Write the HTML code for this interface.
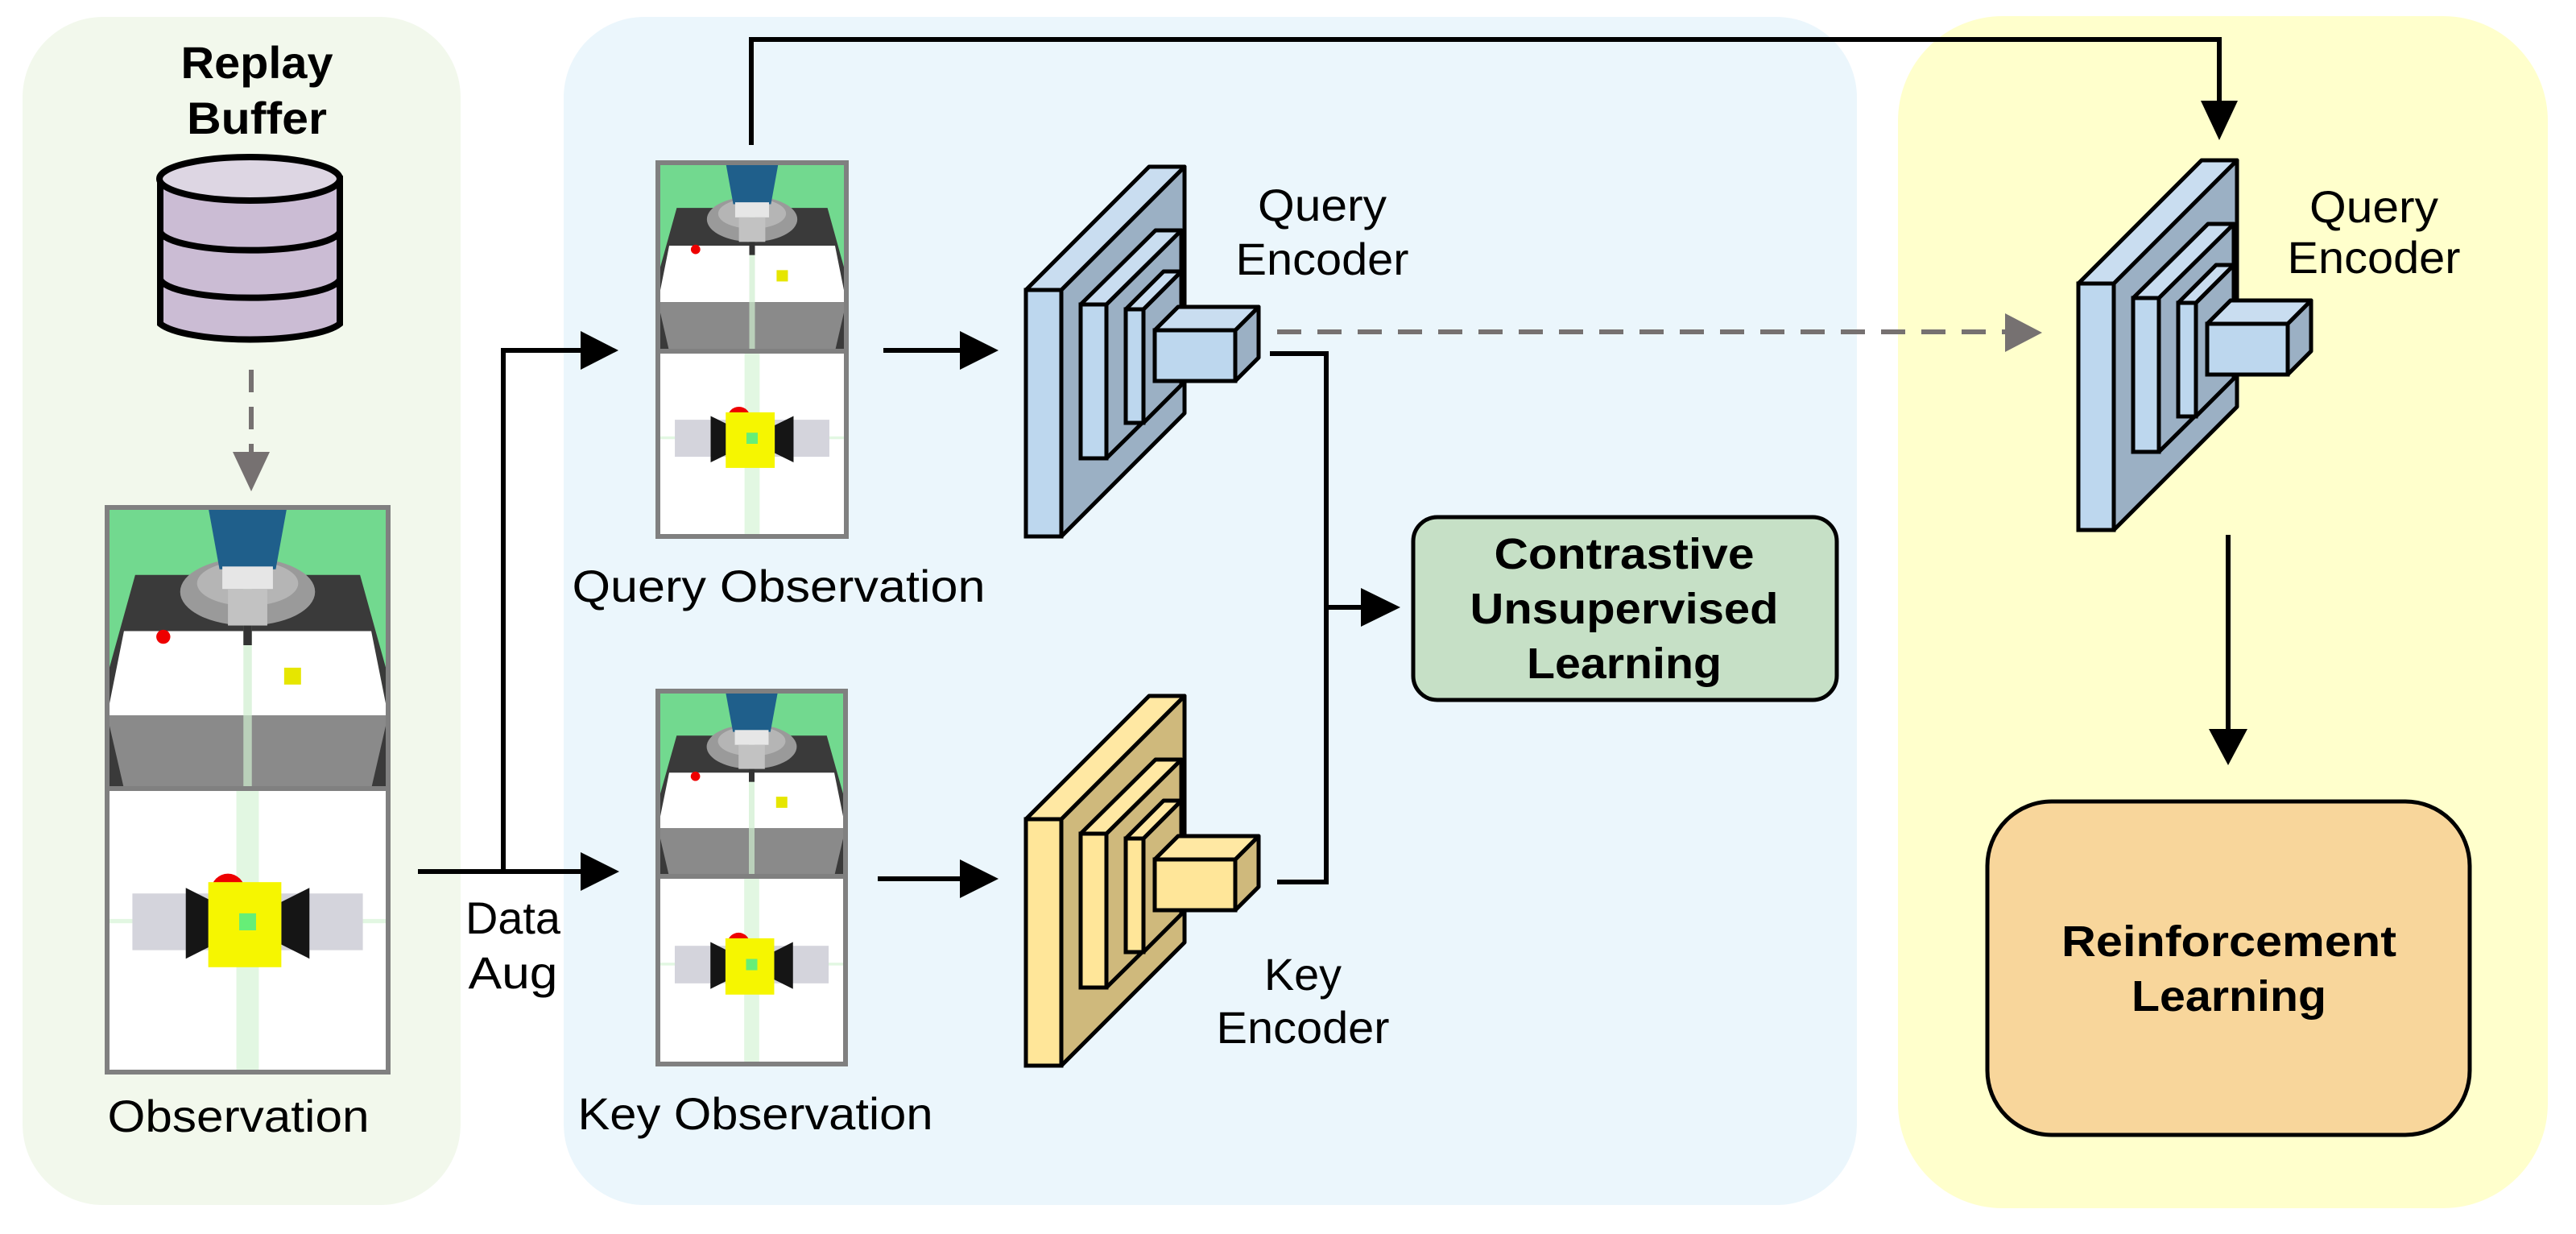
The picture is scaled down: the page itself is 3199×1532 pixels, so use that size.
<!DOCTYPE html>
<html><head><meta charset="utf-8"><style>html,body{margin:0;padding:0;background:#fff}svg{display:block}text{font-family:"Liberation Sans",sans-serif;fill:#000}</style></head>
<body>
<svg width="3199" height="1532" viewBox="0 0 3199 1532" xmlns="http://www.w3.org/2000/svg">
<defs>
<symbol id="topv" viewBox="0 0 100 100" preserveAspectRatio="none">
<rect width="100" height="100" fill="#72d98f"/>
<polygon points="10,24 90,24 100,60 100,100 0,100 0,60" fill="#3a3a3a"/>
<ellipse cx="50" cy="30" rx="24" ry="12" fill="#9a9a9a"/>
<ellipse cx="50" cy="27" rx="18" ry="8" fill="#b5b5b5"/>
<polygon points="6,44 94,44 100,74 0,74" fill="#ffffff"/>
<polygon points="0,74 100,74 94,100 6,100" fill="#8a8a8a"/>
<rect x="48.5" y="20" width="3" height="80" fill="#cfeecf" opacity="0.7"/>
<polygon points="36,0 64,0 60,22 40,22" fill="#1f5f8b"/>
<rect x="41" y="21" width="18" height="8" fill="#e6e6e6"/>
<rect x="43" y="29" width="14" height="13" fill="#c2c2c2"/>
<rect x="48.5" y="42" width="3" height="7" fill="#333"/>
<circle cx="20" cy="46" r="2.5" fill="#e00"/>
<rect x="63" y="57" width="6" height="6" fill="#e6e600"/>
</symbol>
<symbol id="botv" viewBox="0 0 100 100" preserveAspectRatio="none">
<rect width="100" height="100" fill="#fff"/>
<rect x="46" y="0" width="8" height="100" fill="#e2f7e2"/>
<rect x="0" y="46" width="100" height="1.5" fill="#e2f7e2"/>
<rect x="9" y="37" width="31" height="20" fill="#d4d4dc"/>
<rect x="60" y="37" width="31" height="20" fill="#d4d4dc"/>
<polygon points="28,35 38,40 38,55 28,60" fill="#151515"/>
<polygon points="72,35 62,40 62,55 72,60" fill="#151515"/>
<circle cx="43" cy="36" r="6" fill="#e00"/>
<rect x="36" y="33" width="26" height="30" fill="#f6f600"/>
<rect x="47" y="44" width="6" height="6" fill="#66ee77"/>
</symbol>
<g id="enc">
<polygon points="1318,360 1471,207 1471,513 1318,666" fill="var(--d)" stroke="#000" stroke-width="5" stroke-linejoin="round"/>
<polygon points="1274,360 1318,360 1471,207 1427,207" fill="var(--t)" stroke="#000" stroke-width="5" stroke-linejoin="round"/>
<rect x="1274" y="360" width="44" height="306" fill="var(--f)" stroke="#000" stroke-width="5"/>
<polygon points="1374,378 1467,286 1467,477 1374,569" fill="var(--d)" stroke="#000" stroke-width="5" stroke-linejoin="round"/>
<polygon points="1342,378 1374,378 1467,286 1435,286" fill="var(--t)" stroke="#000" stroke-width="5" stroke-linejoin="round"/>
<rect x="1342" y="378" width="32" height="191" fill="var(--f)" stroke="#000" stroke-width="5"/>
<polygon points="1420,384 1467,337 1467,478 1420,525" fill="var(--d)" stroke="#000" stroke-width="5" stroke-linejoin="round"/>
<polygon points="1398,384 1420,384 1467,337 1445,337" fill="var(--t)" stroke="#000" stroke-width="5" stroke-linejoin="round"/>
<rect x="1398" y="384" width="22" height="141" fill="var(--f)" stroke="#000" stroke-width="5"/>
<polygon points="1534,410 1563,381 1563,444 1534,473" fill="var(--d)" stroke="#000" stroke-width="5" stroke-linejoin="round"/>
<polygon points="1434,410 1534,410 1563,381 1463,381" fill="var(--t)" stroke="#000" stroke-width="5" stroke-linejoin="round"/>
<rect x="1434" y="410" width="100" height="63" fill="var(--f)" stroke="#000" stroke-width="5"/>
</g>
</defs>

<rect x="28" y="21" width="544" height="1475" rx="100" fill="#f2f8ec"/>
<rect x="700" y="21" width="1606" height="1475" rx="100" fill="#ebf6fc"/>
<rect x="2357" y="20" width="807" height="1480" rx="130" fill="#ffffcc"/>

<text x="319" y="97" font-size="56" font-weight="bold" text-anchor="middle" textLength="189" lengthAdjust="spacingAndGlyphs">Replay</text>
<text x="319" y="166" font-size="56" font-weight="bold" text-anchor="middle" textLength="174" lengthAdjust="spacingAndGlyphs">Buffer</text>
<path d="M199,222 V402 A116,27 0 0 0 422,402 V222 Z" fill="#cbbcd4" stroke="#000" stroke-width="8"/>
<ellipse cx="310" cy="222" rx="112" ry="27" fill="#ddd6e3" stroke="#000" stroke-width="8"/>
<path d="M199,288 A112,25 0 0 0 422,288" fill="none" stroke="#000" stroke-width="8"/>
<path d="M199,347 A112,25 0 0 0 422,347" fill="none" stroke="#000" stroke-width="8"/>
<line x1="312" y1="459" x2="312" y2="565" stroke="#767171" stroke-width="6" stroke-dasharray="28,18"/>
<polygon points="289,561 335,561 312,610" fill="#767171"/>

<use href="#topv" x="133" y="630" width="349" height="349"/>
<use href="#botv" x="133" y="979" width="349" height="352"/>
<rect x="133" y="630" width="349" height="701" fill="none" stroke="#808080" stroke-width="6"/>
<line x1="133" y1="979" x2="482" y2="979" stroke="#808080" stroke-width="6"/>
<text x="296" y="1405" font-size="56" text-anchor="middle" textLength="325" lengthAdjust="spacingAndGlyphs">Observation</text>

<path d="M519,1082 H725 M625,1082 V435 H725" fill="none" stroke="#000" stroke-width="6"/>
<polygon points="721,1058 721,1106 769,1082" fill="#000"/>
<polygon points="721,411 721,459 768,435" fill="#000"/>
<text x="637" y="1159" font-size="56" text-anchor="middle" textLength="118" lengthAdjust="spacingAndGlyphs">Data</text>
<text x="637" y="1227" font-size="56" text-anchor="middle" textLength="111" lengthAdjust="spacingAndGlyphs">Aug</text>

<use href="#topv" x="817" y="202" width="234" height="234"/>
<use href="#botv" x="817" y="436" width="234" height="230"/>
<rect x="817" y="202" width="234" height="464" fill="none" stroke="#808080" stroke-width="6"/>
<line x1="817" y1="436" x2="1051" y2="436" stroke="#808080" stroke-width="6"/>
<text x="967" y="747" font-size="56" text-anchor="middle" textLength="513" lengthAdjust="spacingAndGlyphs">Query Observation</text>

<use href="#topv" x="817" y="858" width="233" height="230"/>
<use href="#botv" x="817" y="1088" width="233" height="233"/>
<rect x="817" y="858" width="233" height="463" fill="none" stroke="#808080" stroke-width="6"/>
<line x1="817" y1="1088" x2="1050" y2="1088" stroke="#808080" stroke-width="6"/>
<text x="938" y="1402" font-size="56" text-anchor="middle" textLength="441" lengthAdjust="spacingAndGlyphs">Key Observation</text>

<path d="M933,180 V49 H2756 V130" fill="none" stroke="#000" stroke-width="6"/>
<polygon points="2733,125 2779,125 2756,174" fill="#000"/>

<path d="M1097,435 H1200 M1090,1091 H1200" fill="none" stroke="#000" stroke-width="6"/>
<polygon points="1192,411 1192,459 1240,435" fill="#000"/>
<polygon points="1192,1067 1192,1115 1240,1091" fill="#000"/>

<use href="#enc" style="--f:#bdd7ee;--d:#9bb0c4;--t:#c9ddf0"/>
<use href="#enc" transform="translate(0,657)" style="--f:#ffe699;--d:#cfb97c;--t:#ffe8a3"/>
<use href="#enc" transform="translate(1307,-8)" style="--f:#bdd7ee;--d:#9bb0c4;--t:#c9ddf0"/>

<text x="1642" y="274" font-size="56" text-anchor="middle" textLength="160" lengthAdjust="spacingAndGlyphs">Query</text>
<text x="1642" y="341" font-size="56" text-anchor="middle" textLength="215" lengthAdjust="spacingAndGlyphs">Encoder</text>
<text x="1618" y="1229" font-size="56" text-anchor="middle" textLength="96" lengthAdjust="spacingAndGlyphs">Key</text>
<text x="1618" y="1295" font-size="56" text-anchor="middle" textLength="215" lengthAdjust="spacingAndGlyphs">Encoder</text>
<text x="2948" y="276" font-size="56" text-anchor="middle" textLength="160" lengthAdjust="spacingAndGlyphs">Query</text>
<text x="2948" y="339" font-size="56" text-anchor="middle" textLength="215" lengthAdjust="spacingAndGlyphs">Encoder</text>

<path d="M1577,439 H1647 V1095 H1586 M1647,754 H1695" fill="none" stroke="#000" stroke-width="6"/>
<polygon points="1690,730 1690,778 1739,754" fill="#000"/>

<line x1="1586" y1="412" x2="2495" y2="412" stroke="#767171" stroke-width="6" stroke-dasharray="30,20"/>
<polygon points="2490,389 2490,437 2536,413" fill="#767171"/>

<rect x="1755" y="642" width="526" height="227" rx="30" fill="#c6e0c6" stroke="#000" stroke-width="5"/>
<text x="2017" y="706" font-size="54" font-weight="bold" text-anchor="middle" textLength="323" lengthAdjust="spacingAndGlyphs">Contrastive</text>
<text x="2017" y="774" font-size="54" font-weight="bold" text-anchor="middle" textLength="383" lengthAdjust="spacingAndGlyphs">Unsupervised</text>
<text x="2017" y="842" font-size="54" font-weight="bold" text-anchor="middle" textLength="242" lengthAdjust="spacingAndGlyphs">Learning</text>

<line x1="2767" y1="664" x2="2767" y2="910" stroke="#000" stroke-width="6"/>
<polygon points="2743,905 2791,905 2767,950" fill="#000"/>

<rect x="2468" y="995" width="599" height="414" rx="80" fill="#f8d69b" stroke="#000" stroke-width="5"/>
<text x="2768" y="1187" font-size="54" font-weight="bold" text-anchor="middle" textLength="416" lengthAdjust="spacingAndGlyphs">Reinforcement</text>
<text x="2768" y="1255" font-size="54" font-weight="bold" text-anchor="middle" textLength="242" lengthAdjust="spacingAndGlyphs">Learning</text>
</svg>
</body></html>
